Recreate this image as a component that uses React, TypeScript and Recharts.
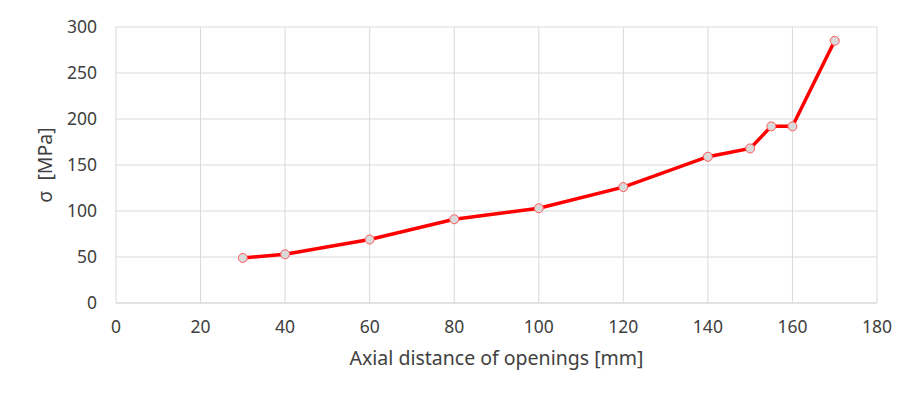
import { LineChart, Line, XAxis, YAxis, CartesianGrid, Label } from 'recharts';

// axial distance of openings [mm]
const distances = [30, 40, 60, 80, 100, 120, 140, 150, 155, 160, 170];
// stress sigma [MPa]
const stress = [49, 53, 69, 91, 103, 126, 159, 168, 192, 192, 285];

const xTicks = [0, 20, 40, 60, 80, 100, 120, 140, 160, 180];
const yTicks = [0, 50, 100, 150, 200, 250, 300];

const data = distances.map((d, i) => ({ d, s: stress[i] }));

const FONT = '"Noto Sans", "Open Sans", sans-serif';
const GRID = '#d9d9d9';
const TICK = { fontSize: 17.5, fill: '#404040', fontFamily: FONT };

export default function App() {
  return (
    <div style={{ position: 'relative', width: 912, height: 394, margin: -8, background: '#fff', overflow: 'hidden' }}>
      <div
        style={{
          position: 'absolute',
          left: 5,
          top: 6,
          width: 920,
          height: 400,
          borderLeft: '1px solid #bfbfbf',
          borderTop: '1px solid #bfbfbf',
        }}
      />
      <div style={{ position: 'absolute', left: 0, top: 0 }}>
        <LineChart width={912} height={394} data={data} margin={{ top: 27, right: 35, left: 56, bottom: 61 }}>
          <CartesianGrid stroke={GRID} strokeWidth={1} />
          <XAxis
            dataKey="d"
            type="number"
            domain={[0, 180]}
            ticks={xTicks}
            tick={TICK}
            tickLine={false}
            tickSize={0}
            tickMargin={18}
            axisLine={{ stroke: GRID }}
            height={30}
          >
            <Label
              value="Axial distance of openings [mm]"
              position="bottom"
              offset={18}
              style={{ fontSize: 19.5, fill: '#404040', fontFamily: FONT }}
            />
          </XAxis>
          <YAxis
            type="number"
            domain={[0, 300]}
            ticks={yTicks}
            tick={TICK}
            tickLine={false}
            tickSize={0}
            tickMargin={19}
            axisLine={false}
            width={60}
          >
            <Label
              value={'σ\u00a0\u00a0[MPa]'}
              angle={-90}
              position="insideLeft"
              offset={-11}
              style={{ fontSize: 19.5, fill: '#404040', fontFamily: FONT, textAnchor: 'middle' }}
            />
          </YAxis>
          <Line
            type="linear"
            dataKey="s"
            stroke="#ff0000"
            strokeWidth={3.5}
            dot={{ r: 4.5, fill: '#d9d9d9', stroke: '#ff5a5a', strokeWidth: 1 }}
            isAnimationActive={false}
          />
        </LineChart>
      </div>
    </div>
  );
}
